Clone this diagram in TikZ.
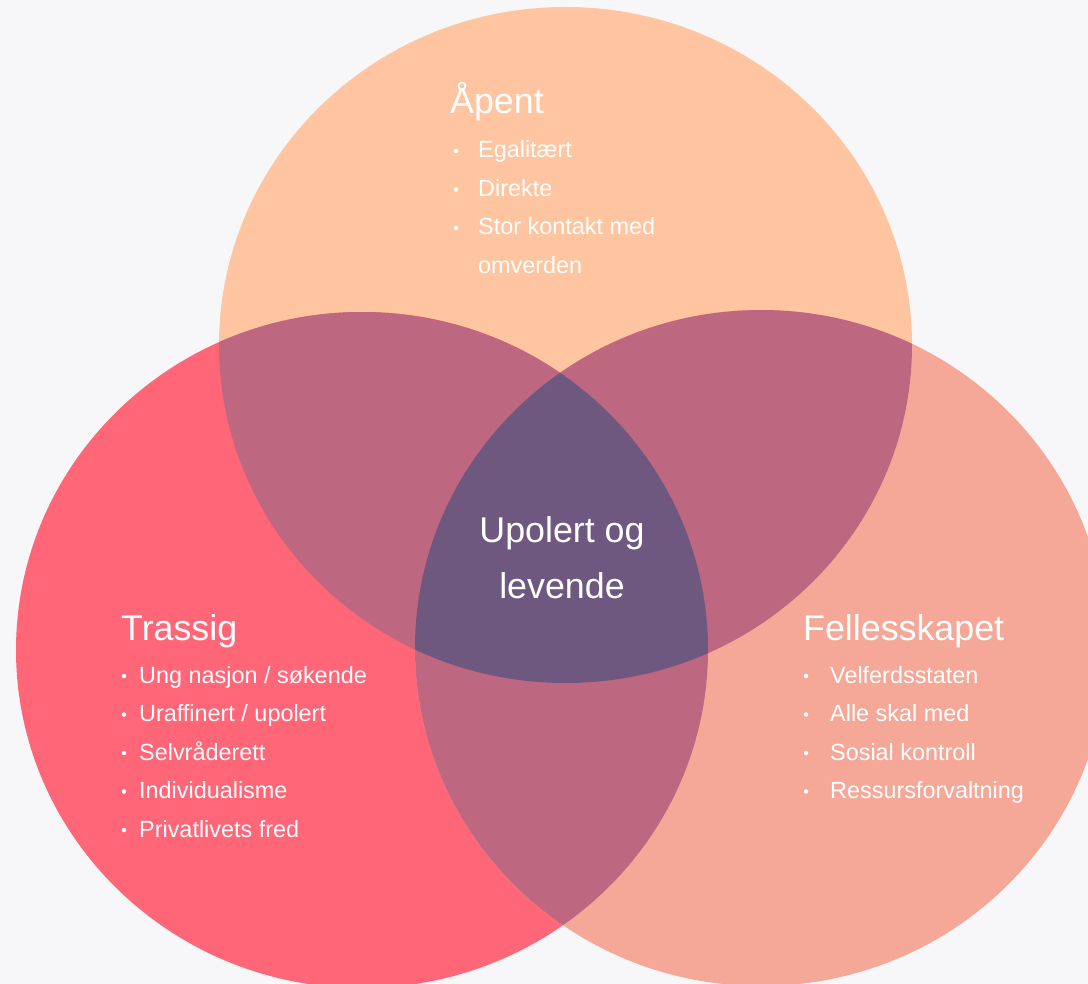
\documentclass[tikz,border=0pt]{standalone}
\usepackage{fontspec}
\setmainfont{Liberation Sans}
\definecolor{bgcol}{HTML}{F7F7F9}
\definecolor{apentcol}{HTML}{FFC4A0}
\definecolor{trassigcol}{HTML}{FF6678}
\definecolor{fellescol}{HTML}{F5A898}
\definecolor{paircol}{HTML}{BD6780}
\definecolor{midcol}{HTML}{6E5880}
\def\apentpath{(565.5,345) ellipse [x radius=346.5,y radius=338]}
\def\trassigpath{(362,650) ellipse [x radius=346,y radius=338]}
\def\fellespath{(761,648) ellipse [x radius=346,y radius=338]}
\tikzset{vtitle/.style={text=white,font=\fontsize{35.8}{40}\selectfont,anchor=base west,inner sep=0pt},
vitem/.style={text=white,font=\fontsize{23.4}{28}\selectfont,anchor=base west,inner sep=0pt},
vdot/.style={fill=white,circle,minimum size=4.5pt,inner sep=0pt}}

\begin{document}
\begin{tikzpicture}[x=1pt,y=-1pt]
\useasboundingbox (0,0) rectangle (1088,984);
\clip (0,0) rectangle (1088,984);
\fill[bgcol] (0,0) rectangle (1088,984);
\fill[apentcol] \apentpath;
\fill[trassigcol] \trassigpath;
\fill[fellescol] \fellespath;
\begin{scope}
\clip \apentpath;
\fill[paircol] \trassigpath;
\fill[paircol] \fellespath;
\end{scope}
\begin{scope}
\clip \trassigpath;
\fill[paircol] \fellespath;
\end{scope}
\begin{scope}
\clip \apentpath;
\clip \trassigpath;
\fill[midcol] \fellespath;
\end{scope}
% Åpent
\node[vtitle] (apent) at (450,114) {Åpent};
\foreach \t [count=\i] in {Egalitært,Direkte,Stor kontakt med}{
\node[vdot] (apentdot\i) at (456,{151+38.5*(\i-1)}) {};
\node[vitem] (apent\i) at (478,{158+38.5*(\i-1)}) {\t};
}
\node[vitem] (apent4) at (478,273.5) {omverden};
% Trassig
\node[vtitle] (trassig) at (121,640) {Trassig};
\foreach \t [count=\i] in {Ung nasjon / søkende,Uraffinert / upolert,Selvråderett,Individualisme,Privatlivets fred}{
\node[vdot] (trassigdot\i) at (124,{676+38.5*(\i-1)}) {};
\node[vitem] (trassig\i) at (139,{683+38.5*(\i-1)}) {\t};
}
% Fellesskapet
\node[vtitle] (felles) at (803,640) {Fellesskapet};
\foreach \t [count=\i] in {Velferdsstaten,Alle skal med,Sosial kontroll,Ressursforvaltning}{
\node[vdot] (fellesdot\i) at (806,{676+38.5*(\i-1)}) {};
\node[vitem] (felles\i) at (830,{683+38.5*(\i-1)}) {\t};
}
% midten
\node[vtitle,anchor=base] (midt1) at (562,542) {Upolert og};
\node[vtitle,anchor=base] (midt2) at (562,598) {levende};
\end{tikzpicture}
\end{document}
